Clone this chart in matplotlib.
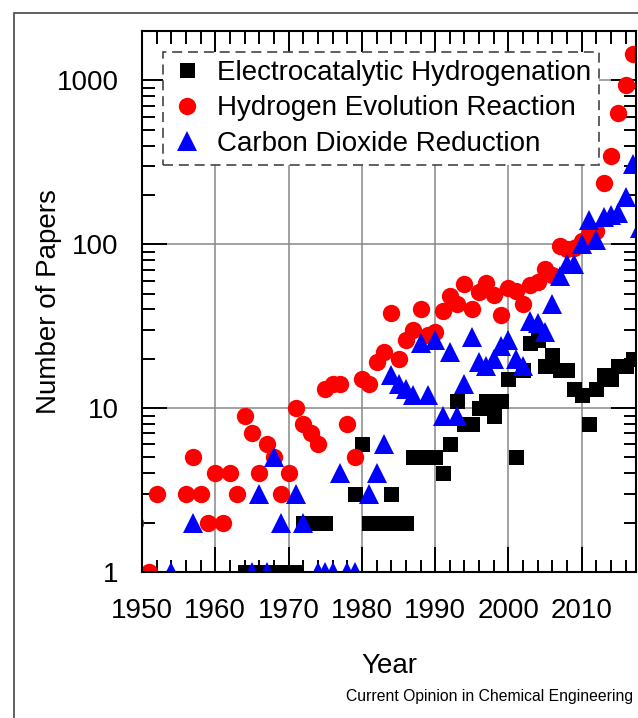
import numpy as np
import matplotlib
matplotlib.use('Agg')
import matplotlib.pyplot as plt
from matplotlib.ticker import MultipleLocator, LogLocator, NullFormatter, FixedLocator
from matplotlib.patches import Rectangle

plt.rcParams['font.family'] = ['Liberation Sans', 'DejaVu Sans']

# Electrocatalytic Hydrogenation (black squares)
ech_years = [1964, 1965, 1966, 1967, 1968, 1969, 1970, 1971, 1972, 1973, 1974, 1975,
             1979, 1980, 1981, 1982, 1983, 1984, 1985, 1986, 1987, 1988, 1989, 1990,
             1991, 1992, 1993, 1994, 1995, 1996, 1997, 1998, 1999, 2000, 2001, 2002,
             2003, 2004, 2005, 2006, 2007, 2008, 2009, 2010, 2011, 2012, 2013, 2014,
             2015, 2016, 2017]
ech_papers = [1, 1, 1, 1, 1, 1, 1, 1, 2, 2, 2, 2,
              3, 6, 2, 2, 2, 3, 2, 2, 5, 5, 5, 5,
              4, 6, 11, 8, 8, 10, 11, 9, 11, 15, 5, 17,
              25, 26, 18, 21, 17, 17, 13, 12, 8, 13, 16, 15,
              18, 18, 20]

# Hydrogen Evolution Reaction (red circles)
her_years = [1949, 1951, 1952, 1956, 1957, 1958, 1959, 1960, 1961, 1962, 1963, 1964,
             1965, 1966, 1967, 1968, 1969, 1970, 1971, 1972, 1973, 1974, 1975, 1976,
             1977, 1978, 1979, 1980, 1981, 1982, 1983, 1984, 1985, 1986, 1987, 1988,
             1989, 1990, 1991, 1992, 1993, 1994, 1995, 1996, 1997, 1998, 1999, 2000,
             2001, 2002, 2003, 2004, 2005, 2006, 2007, 2008, 2009, 2010, 2011, 2012,
             2013, 2014, 2015, 2016, 2017]
her_papers = [2, 1, 3, 3, 5, 3, 2, 4, 2, 4, 3, 9,
              7, 4, 6, 5, 3, 4, 10, 8, 7, 6, 13, 14,
              14, 8, 5, 15, 14, 19, 22, 38, 20, 26, 30, 40,
              28, 29, 39, 48, 43, 57, 40, 51, 58, 49, 37, 54,
              52, 43, 56, 59, 71, 65, 98, 93, 95, 105, 115, 120,
              235, 345, 630, 940, 1450]

# Carbon Dioxide Reduction (blue triangles)
co2_years = [1954, 1957, 1965, 1966, 1967, 1968, 1969, 1971, 1972, 1974, 1975, 1976,
             1977, 1978, 1979, 1981, 1982, 1983, 1984, 1985, 1986, 1987, 1988, 1989,
             1990, 1991, 1992, 1993, 1994, 1995, 1996, 1997, 1998, 1999, 2000, 2001,
             2002, 2003, 2004, 2005, 2006, 2007, 2008, 2009, 2010, 2011, 2012, 2013,
             2014, 2015, 2016, 2017, 2018]
co2_papers = [1, 2, 1, 3, 1, 5, 2, 3, 2, 1, 1, 1,
              4, 1, 1, 3, 4, 6, 16, 14, 13, 12, 25, 12,
              26, 9, 22, 9, 14, 27, 19, 18, 20, 24, 26, 20,
              18, 34, 33, 29, 43, 64, 76, 76, 100, 140, 106, 147,
              150, 155, 195, 310, 125]

labels = ['Electrocatalytic Hydrogenation', 'Hydrogen Evolution Reaction',
          'Carbon Dioxide Reduction']

fig = plt.figure(figsize=(6.38, 7.18), dpi=100)
ax = fig.add_axes([142/638, 1 - 572/718, 494/638, 541/718])

ax.plot(ech_years, ech_papers, 's', color='black', ms=10.8, mew=0, label=labels[0])
ax.plot(her_years, her_papers, 'o', color='#ff0000', ms=12.5, mew=0, label=labels[1])
ax.plot(co2_years, co2_papers, '^', color='#0000ff', ms=14, mew=0, label=labels[2])

ax.set_yscale('log')
ax.set_xlim(1950, 2017.4)
ax.set_ylim(1, 2000)

ax.xaxis.set_major_locator(FixedLocator([1950, 1960, 1970, 1980, 1990, 2000, 2010]))
ax.xaxis.set_minor_locator(MultipleLocator(2))
ax.yaxis.set_major_locator(FixedLocator([1, 10, 100, 1000]))
ax.yaxis.set_minor_locator(LogLocator(base=10, subs=np.arange(2, 10)))
ax.yaxis.set_minor_formatter(NullFormatter())
ax.set_yticklabels(['1', '10', '100', '1000'])

ax.tick_params(which='both', direction='in', top=True, right=True, width=1.4,
               color='black', labelsize=20)
ax.tick_params(which='major', length=18)
ax.tick_params(which='minor', length=9)
ax.tick_params(axis='x', which='major', pad=19)
ax.tick_params(axis='y', which='major', pad=17)

for s in ax.spines.values():
    s.set_linewidth(1.5)

ax.grid(True, which='major', color='#888888', linewidth=1.1)
ax.set_axisbelow(True)

ax.set_xlabel('Year', fontsize=20)
ax.xaxis.set_label_coords(0.5, -0.149)
ax.set_ylabel('Number of Papers', fontsize=20)
ax.yaxis.set_label_coords(-0.162, 0.5)

leg = ax.legend(loc='upper left', bbox_to_anchor=(0.0425, 0.961), borderaxespad=0,
                fontsize=20, numpoints=1, fancybox=False, framealpha=1,
                edgecolor='#444444', borderpad=0.28, labelspacing=0.34,
                handlelength=1.18, handletextpad=0.5)
leg.get_frame().set_linewidth(1.2)
leg.get_frame().set_linestyle((0, (6, 3.5)))

fig.text(633/638, 1 - 697/718, 'Current Opinion in Chemical Engineering',
         ha='right', va='center', fontsize=11.3)

# outer frame of the figure panel
fig.patches.append(Rectangle((14/638, -0.1), 1.2, 1 - 13/718 + 0.1,
                             transform=fig.transFigure, fill=False,
                             edgecolor='#444444', linewidth=1.2))

fig.savefig('out.png', dpi=100)
